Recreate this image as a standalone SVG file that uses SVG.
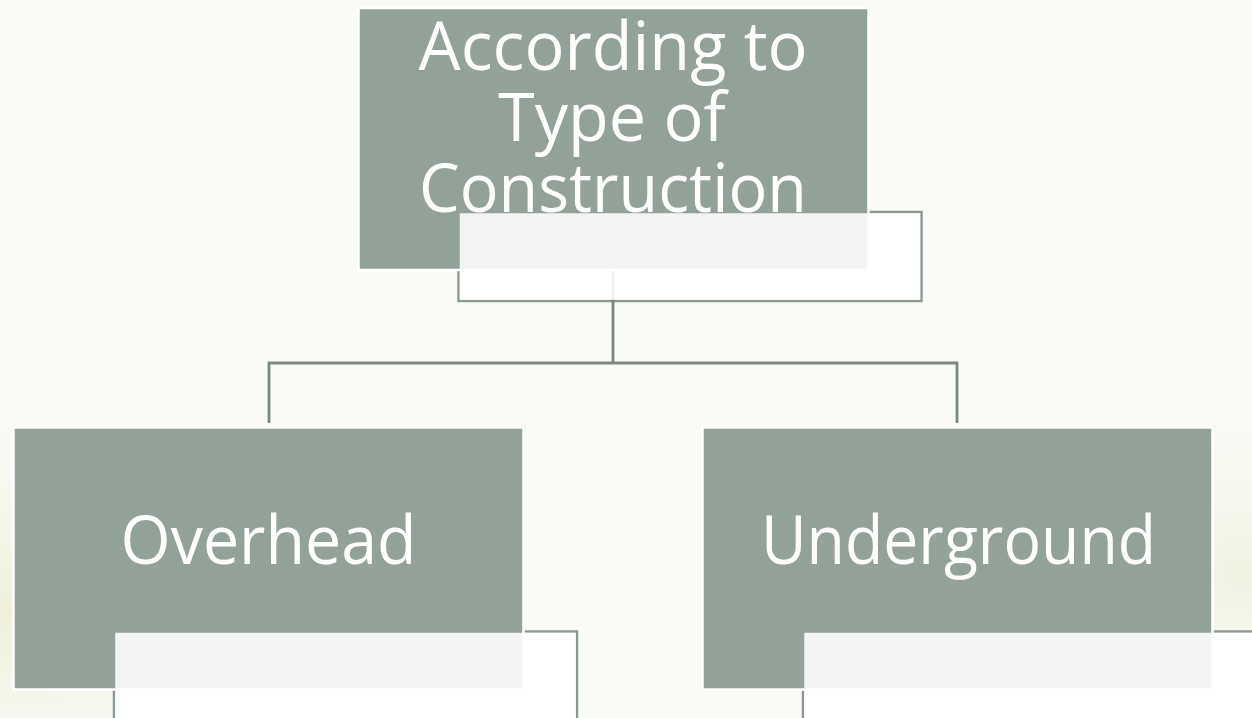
<svg xmlns="http://www.w3.org/2000/svg" width="1252" height="718" viewBox="0 0 1252 718">
  <defs>
    <style>
      .node { fill: #93a299; stroke: #ffffff; stroke-width: 2.5; }
      .sub-back { fill: #ffffff; stroke: #8b9a91; stroke-width: 2.5; }
      .sub-over { fill: #ffffff; fill-opacity: 0.89; stroke: none; }
      .label { font-family: "Open Sans", "Noto Sans", "Liberation Sans", sans-serif; font-size: 68px; fill: #ffffff; text-anchor: middle; }
      .conn { fill: none; stroke: #7a8980; stroke-width: 2.8; }
    </style>
    <radialGradient id="bgL" cx="0" cy="0.85" r="0.35">
      <stop offset="0" stop-color="#eeeed8" stop-opacity="0.9"/>
      <stop offset="1" stop-color="#fafbf6" stop-opacity="0"/>
    </radialGradient>
    <radialGradient id="bgR" cx="1" cy="0.8" r="0.3">
      <stop offset="0" stop-color="#efefdc" stop-opacity="0.8"/>
      <stop offset="1" stop-color="#fafbf6" stop-opacity="0"/>
    </radialGradient>
  </defs>

  <rect x="0" y="0" width="1252" height="718" fill="#fafbf6"/>
  <rect x="0" y="0" width="1252" height="718" fill="url(#bgL)"/>
  <rect x="0" y="0" width="1252" height="718" fill="url(#bgR)"/>

  <!-- white sub-box backs (strokes) -->
  <g id="subboxes-back">
    <rect class="sub-back" x="458.5" y="212" width="463" height="89"/>
    <rect class="sub-back" x="114" y="631.5" width="463" height="89"/>
    <rect class="sub-back" x="803" y="631.5" width="463" height="89"/>
  </g>

  <g id="connectors">
    <path class="conn" d="M613,270 V363 M269,423 V363 H957 V423"/>
  </g>

  <g id="node-top">
    <rect class="node" x="358.5" y="8" width="510" height="262"/>
    <text class="label" x="613" y="69.5" textLength="389" lengthAdjust="spacingAndGlyphs">According to</text>
    <text class="label" x="612" y="141" textLength="228" lengthAdjust="spacingAndGlyphs">Type of</text>
    <text class="label" x="613" y="212" textLength="388" lengthAdjust="spacingAndGlyphs">Construction</text>
    <rect class="sub-over" x="459.75" y="213.25" width="460.5" height="86.5"/>
  </g>

  <g id="node-overhead">
    <rect class="node" x="13.5" y="427.5" width="510" height="262"/>
    <text class="label" x="268.5" y="564" textLength="296" lengthAdjust="spacingAndGlyphs">Overhead</text>
    <rect class="sub-over" x="115.25" y="632.75" width="460.5" height="86.5"/>
  </g>

  <g id="node-underground">
    <rect class="node" x="702.5" y="427.5" width="510" height="262"/>
    <text class="label" x="958.5" y="564" textLength="395" lengthAdjust="spacingAndGlyphs">Underground</text>
    <rect class="sub-over" x="804.25" y="632.75" width="460.5" height="86.5"/>
  </g>
</svg>
